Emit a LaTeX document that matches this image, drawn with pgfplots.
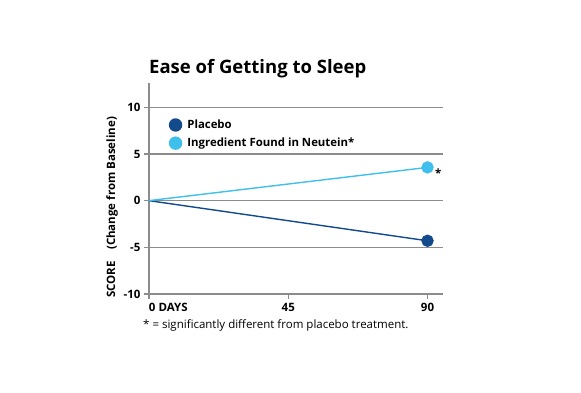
\documentclass[border=0pt]{standalone}
\usepackage{fontspec}
\setmainfont{Open Sans}
\usepackage{pgfplots}
\pgfplotsset{compat=1.18}
\definecolor{placebo}{HTML}{124A8C}
\definecolor{ingred}{HTML}{3FC0EC}
\definecolor{gridc}{HTML}{8C8C8C}
\begin{document}
\begin{tikzpicture}[x=1pt,y=1pt]
\path[use as bounding box] (-149,-98) rectangle (432,294);
\begin{axis}[
  scale only axis, width=294pt, height=211pt,
  xmin=0, xmax=95, ymin=-10, ymax=12.6,
  axis x line=bottom, axis y line=left,
  axis line style={gridc, line width=1.2pt, -},
  xtick={0,45,90}, xticklabels={\makebox[0pt][l]{0 DAYS},45,90},
  ytick={-10,-5,0,5,10}, yticklabels={-10,-5,0,5,10},
  tick align=outside, major tick length=5pt,
  tick style={gridc, line width=1.2pt},
  ymajorgrids, grid style={gridc, line width=1.2pt},
  tick label style={font=\bfseries\fontsize{11.5}{13}\selectfont, text=black},
  xticklabel style={yshift=-1pt},
  legend style={draw=none, fill=none, at={(rel axis cs:0.05,0.845)}, anchor=north west,
    font=\bfseries\fontsize{11.4}{13}\selectfont, row sep=4pt},
  legend image code/.code={\path (0cm,0cm) (0.6cm,0cm); \fill (0.28cm,0cm) circle (6pt);},
  legend cell align=left,
  clip=false,
]
\addplot[placebo, line width=1.4pt, mark=*, mark size=5.5pt, mark indices={2}] coordinates {(0,0) (90,-4.3)};
\addlegendentry{Placebo}
\addplot[ingred, line width=1.4pt, mark=*, mark size=5.5pt, mark indices={2}] coordinates {(0,0) (90,3.56)};
\addlegendentry{Ingredient Found in Neutein*}
\node[anchor=center, font=\bfseries\fontsize{11.5}{13}\selectfont] at (axis cs:93.5,2.9) {*};
\node[anchor=base west, font=\bfseries\fontsize{18.5}{22}\selectfont, inner sep=0pt] at ([yshift=10pt]rel axis cs:0,1) {Ease of Getting to Sleep};
\node[rotate=90, anchor=center, font=\bfseries\fontsize{11.5}{13}\selectfont] at ([xshift=-37pt]rel axis cs:0,0.41) {SCORE\quad(Change from Baseline)};
\node[anchor=base west, font=\fontsize{11.5}{13}\selectfont, inner sep=0pt] at ([xshift=-6pt,yshift=-34pt]rel axis cs:0,0) {* = significantly different from placebo treatment.};
\end{axis}
\end{tikzpicture}
\end{document}
